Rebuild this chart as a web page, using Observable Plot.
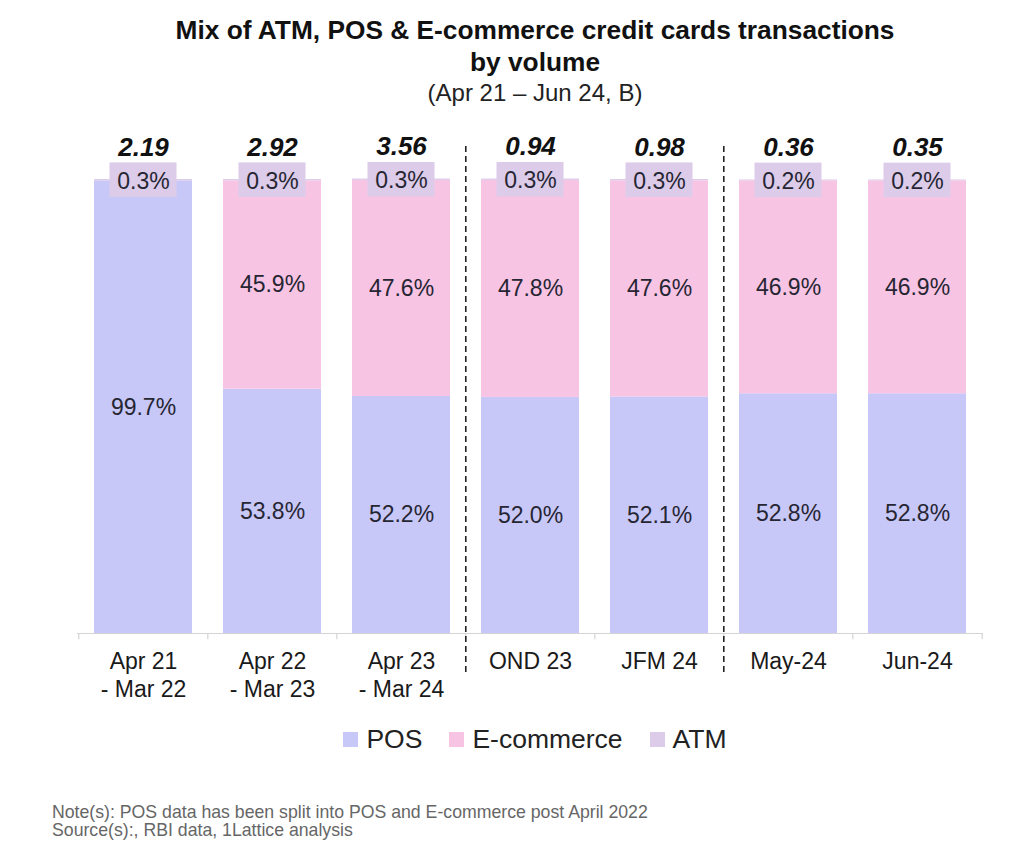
<!DOCTYPE html>
<html>
<head>
<meta charset="utf-8">
<script src="https://cdn.jsdelivr.net/npm/d3@7"></script>
<script src="https://cdn.jsdelivr.net/npm/@observablehq/plot@0.6"></script>
<style>
  html, body { margin: 0; padding: 0; background: #fff; }
  body { width: 1030px; height: 862px; position: relative; font-family: "Liberation Sans", Arial, sans-serif; color: #111; overflow: hidden; }
  #title { position: absolute; top: 14px; left: 0; width: 1070px; text-align: center; font-weight: bold; font-size: 26.3px; line-height: 32px; color: #111; }
  #subtitle { position: absolute; top: 78px; left: 0; width: 1070px; text-align: center; font-size: 24px; line-height: 30px; color: #222; }
  #chart { position: absolute; top: 110px; left: 0; }
  #legend { position: absolute; top: 724px; left: 0; width: 1070px; display: flex; justify-content: center; align-items: center; gap: 27px; font-size: 26.5px; color: #222; }
  #legend .item { display: flex; align-items: center; }
  #legend .sw { width: 15px; height: 15px; margin-right: 8px; }
  #notes { position: absolute; top: 803px; left: 52px; font-size: 17.7px; line-height: 18px; color: #666; }
</style>
</head>
<body>
<div id="title">Mix of ATM, POS &amp; E-commerce credit cards transactions<br>by volume</div>
<div id="subtitle">(Apr 21 – Jun 24, B)</div>
<div id="chart"></div>
<div id="legend"></div>
<div id="notes">Note(s): POS data has been split into POS and E-commerce post April 2022<br>Source(s):, RBI data, 1Lattice analysis</div>
<script>
// ---- data ----
const categories = ["Apr 21\n- Mar 22", "Apr 22\n- Mar 23", "Apr 23\n- Mar 24", "OND 23", "JFM 24", "May-24", "Jun-24"];
const series = ["POS", "E-commerce", "ATM"];
const posShare = [99.7, 53.8, 52.2, 52.0, 52.1, 52.8, 52.8];
const ecomShare = [0, 45.9, 47.6, 47.8, 47.6, 46.9, 46.9];
const atmShare = [0.3, 0.3, 0.3, 0.3, 0.3, 0.2, 0.2];
const totals = [2.19, 2.92, 3.56, 0.94, 0.98, 0.36, 0.35];
const dividers = ["OND 23", "May-24"]; // dashed separators drawn before these categories

const colors = ["#c8c8f8", "#f8c4e4", "#dccbe9"];
const atmBoxColor = "#dccbe9";

// ---- build table ----
const rows = [];
categories.forEach((c, i) => {
  rows.push({cat: c, series: "POS", value: posShare[i]});
  rows.push({cat: c, series: "E-commerce", value: ecomShare[i]});
  rows.push({cat: c, series: "ATM", value: atmShare[i]});
});
const tops = categories.map((c, i) => ({cat: c, top: posShare[i] + ecomShare[i] + atmShare[i], atm: atmShare[i], total: totals[i]}));
const bodyRows = rows.filter(d => d.series !== "ATM" && d.value > 0);

const W = 1030, H = 600, mL = 77, mR = 47;
const halfStep = (W - mL - mR) / categories.length / 2;
const ink = "#262633";

const chart = Plot.plot({
  width: W,
  height: H,
  marginTop: 69,
  marginBottom: 77,
  marginLeft: mL,
  marginRight: mR,
  style: {fontFamily: "'Liberation Sans', Arial, sans-serif", background: "#fff"},
  x: {domain: categories, paddingInner: 0.24, paddingOuter: 0.12, label: null},
  y: {domain: [0, 100], axis: null},
  color: {domain: series, range: colors},
  marks: [
    Plot.barY(rows, {x: "cat", y: "value", fill: "series", order: series}),
    Plot.ruleY([0], {stroke: "#d4d4d4", strokeWidth: 1.2}),
    Plot.ruleX(categories, {x: d => d, y1: 0, y2: -1.4, dx: -halfStep, stroke: "#d4d4d4", strokeWidth: 1.2}),
    Plot.ruleX(categories.slice(-1), {x: d => d, y1: 0, y2: -1.4, dx: halfStep, stroke: "#d4d4d4", strokeWidth: 1.2}),
    Plot.ruleX(dividers, {x: d => d, y1: -8.6, y2: 107.3, dx: -halfStep, stroke: "#222", strokeWidth: 1.6, strokeDasharray: "6,4"}),
    Plot.axisX({tickSize: 0, tickPadding: 16, fontSize: 23, fill: "#1a1a1a", label: null, lineHeight: 1.2}),
    Plot.text(bodyRows, Plot.stackY({x: "cat", y: "value", z: "series", order: series, text: d => d.value.toFixed(1) + "%", fontSize: 23, fill: ink})),
    Plot.barY(tops, {x: "cat", y1: d => d.top - d.atm / 2 - 3.8, y2: d => d.top - d.atm / 2 + 3.8, insetLeft: 15.5, insetRight: 15.5, fill: atmBoxColor}),
    Plot.text(tops, {x: "cat", y: d => d.top - d.atm / 2, text: d => d.atm.toFixed(1) + "%", fontSize: 23, fill: ink, dy: 1}),
    Plot.text(tops, {x: "cat", y: d => d.top, text: d => d.total.toFixed(2), dy: -32, fontSize: 26, fontWeight: "bold", fontStyle: "italic", fill: "#111"})
  ]
});
document.getElementById("chart").appendChild(chart);

// legend
const legend = document.getElementById("legend");
series.forEach((s, i) => {
  const item = document.createElement("div");
  item.className = "item";
  const sw = document.createElement("span");
  sw.className = "sw";
  sw.style.background = colors[i];
  const t = document.createElement("span");
  t.textContent = s;
  item.appendChild(sw);
  item.appendChild(t);
  legend.appendChild(item);
});
</script>
</body>
</html>
